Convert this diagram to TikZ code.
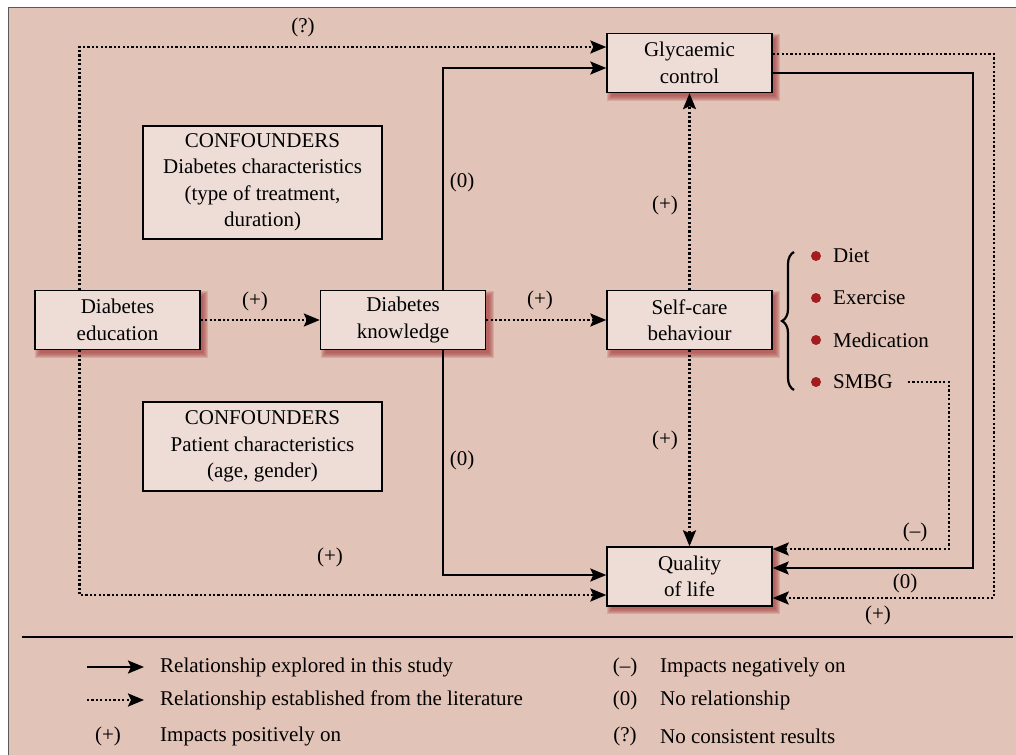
\documentclass[tikz,border=0pt]{standalone}
\usepackage{fontspec}
\setmainfont{LiberationSerif}[Extension=.ttf, UprightFont=*-Regular, BoldFont=*-Bold, ItalicFont=*-Italic]
\usetikzlibrary{arrows.meta,calc,decorations.pathreplacing}
\definecolor{bgc}{HTML}{E2C3B7}
\definecolor{boxc}{HTML}{EEDDD6}
\definecolor{shc}{HTML}{A84444}
\definecolor{bulc}{HTML}{A21C20}
\pgfdeclarelayer{bottom}
\pgfdeclarelayer{shade}
\pgfsetlayers{bottom,shade,main}
\begin{document}
\begin{tikzpicture}[x=1pt,y=-1pt,
  txt/.style={font=\fontsize{21}{26.5}\selectfont, inner sep=0pt},
  mainbox/.style={txt, draw=black, line width=1.4pt, fill=boxc, minimum width=165pt, minimum height=59pt, align=center},
  confbox/.style={txt, draw=black, line width=1.4pt, fill=boxc, minimum width=239pt, align=center},
  lbl/.style={txt},
  tipstyle/.style={-{Stealth[length=16pt,width=13pt,inset=3pt]}},
  solidarrow/.style={line width=2.2pt, tipstyle},
  dotarrow/.style={line width=2.4pt, dash pattern=on 2.2pt off 2.2pt, tipstyle},
  bul/.style={circle, fill=bulc, minimum size=10pt, inner sep=0pt},
]
\useasboundingbox (0,0) rectangle (1016,754);
\begin{pgfonlayer}{bottom}
  \clip (0,0) rectangle (1016,754);
  \fill[white] (0,0) rectangle (1016,754);
  \draw[line width=1pt, draw=black!65, fill=bgc] (8.5,7.5) rectangle (1040,780);
\end{pgfonlayer}

% main boxes
\node[mainbox] (edu)  at (117.5,320) {Diabetes\\education};
\node[mainbox] (know) at (403,320) {Diabetes\\knowledge};
\node[mainbox] (gly)  at (689.5,63) {Glycaemic\\control};
\node[mainbox] (self) at (689.5,320) {Self-care\\behaviour};
\node[mainbox] (qol)  at (689.5,576.5) {Quality\\of life};

% confounders
\node[confbox, minimum height=113pt] (conf1) at (262.5,182.5) {CONFOUNDERS\\Diabetes characteristics\\(type of treatment,\\duration)};
\node[confbox, minimum height=89pt] (conf2) at (262.5,446.5) {CONFOUNDERS\\Patient characteristics\\(age, gender)};

% shadows
\begin{pgfonlayer}{shade}
  \foreach \n in {edu,know,gly,self,qol}{
    \foreach \k in {0,1,...,5}{
      \fill[shc, opacity=0.2] ($(\n.north west)+(3-\k,3-\k)+(3,3)$) rectangle ($(\n.south east)+(2.5+\k,2.5+\k)$);
    }
  }
\end{pgfonlayer}

% connectors
\draw[dotarrow] (edu) -- (know);
\draw[dotarrow] (know) -- (self);
\draw[dotarrow] (self) -- (gly);
\draw[dotarrow] (self) -- (qol);
\draw[dotarrow] ($(edu.north west)+(45,0)$) |- ($(gly.west)+(0,-16)$);
\draw[dotarrow] ($(edu.south west)+(45,0)$) |- ($(qol.west)+(0,18.5)$);
\draw[solidarrow] ($(know.north west)+(123,0)$) |- ($(gly.west)+(0,5)$);
\draw[solidarrow] ($(know.south west)+(123,0)$) |- ($(qol.west)+(0,-1.5)$);
\draw[dotarrow] ($(gly.east)+(0,-9)$) -- ++(221,0) |- ($(qol.east)+(0,21.5)$);
\draw[solidarrow] ($(gly.east)+(0,10)$) -- ++(200,0) |- ($(qol.east)+(0,-8.5)$);

% self-care list
\draw[line width=2.2pt, decorate, decoration={brace, amplitude=12pt}] (794,390) coordinate (brB) -- (794,252) coordinate (brT);
\foreach \y/\t/\nm in {256/Diet/diet, 298/Exercise/exer, 340/Medication/medi, 382/SMBG/smbg}{
  \node[bul] (b\nm) at (816,\y) {};
  \node[txt, anchor=west] (\nm) at (833,\y) {\t};
}
\draw[dotarrow] ([xshift=15pt]smbg.east) -- ++(41,0) |- ($(qol.east)+(0,-27.5)$);

% labels
\node[lbl] (lq)  at (303,27)  {(?)};
\node[lbl] (l1)  at (255,301) {(+)};
\node[lbl] (l2)  at (540,300) {(+)};
\node[lbl] (l3)  at (462,182) {(0)};
\node[lbl] (l4)  at (462,460) {(0)};
\node[lbl] (l5)  at (330,557) {(+)};
\node[lbl] (l6)  at (665,205) {(+)};
\node[lbl] (l7)  at (665,440) {(+)};
\node[lbl] (l8)  at (915,532) {(–)};
\node[lbl] (l9)  at (905,583) {(0)};
\node[lbl] (l10) at (878,615) {(+)};

% separator
\draw[line width=1.4pt] (22,637) coordinate (sepL) -- (1013,637) coordinate (sepR);

% legend
\coordinate (a1s) at (87,667); \coordinate (a1e) at (144,667);
\coordinate (a2s) at (87,700); \coordinate (a2e) at (144,700);
\draw[solidarrow] (a1s) -- (a1e);
\draw[dotarrow] (a2s) -- (a2e);
\node[txt, anchor=west] (t1) at (160,667) {Relationship explored in this study};
\node[txt, anchor=west] (t2) at (160,700) {Relationship established from the literature};
\node[lbl] (m3) at (108,736) {(+)};
\node[txt, anchor=west] (t3) at (160,736) {Impacts positively on};
\node[lbl] (m4) at (625,667) {(–)};
\node[txt, anchor=west] (t4) at (660,667) {Impacts negatively on};
\node[lbl] (m5) at (625,700) {(0)};
\node[txt, anchor=west] (t5) at (660,700) {No relationship};
\node[lbl] (m6) at (625,736) {(?)};
\node[txt, anchor=west] (t6) at (660,736) {No consistent results};
\end{tikzpicture}
\end{document}
